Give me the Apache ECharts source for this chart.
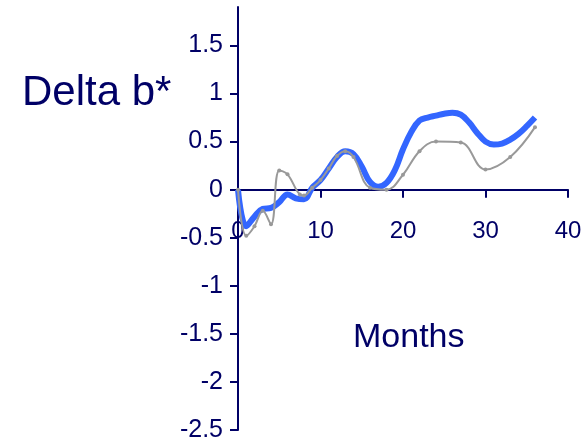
<!DOCTYPE html>
<html>
<head>
<meta charset="utf-8">
<script src="https://cdn.jsdelivr.net/npm/echarts@6/dist/echarts.min.js"></script>
<style>html,body{margin:0;padding:0;background:#fff;}#c{width:588px;height:444px;}</style>
</head>
<body>
<div id="c"></div>
<script>
// Data
const blueMonths = [0,1,2,3,4,5,6,7,8,9,10,11,12,13,14,15,16,17,18,19,20,21,22,23,24,25,26,27,28,29,30,31,32,33,34,35,36];
const blueValues = [0,-0.38,-0.28,-0.2,-0.19,-0.13,-0.05,-0.09,-0.1,0.02,0.1,0.22,0.34,0.4,0.37,0.24,0.08,0.03,0.07,0.2,0.42,0.6,0.72,0.75,0.77,0.79,0.8,0.78,0.7,0.59,0.5,0.47,0.48,0.52,0.58,0.66,0.75];
const grayMonths = [0,1,2,3,4,5,6,7.5,8,9,10,11,12,13,14,16,18,20,22,24,27,30,33,36];
const grayValues = [0,-0.48,-0.38,-0.22,-0.36,0.2,0.16,-0.05,-0.06,0.02,0.1,0.22,0.35,0.4,0.34,0.02,0.0,0.155,0.4,0.5,0.49,0.21,0.34,0.65];
const yTicks = [-2.5,-2,-1.5,-1,-0.5,0,0.5,1,1.5];
const yMin = -2.5, yMax = 1.9;
const xTicks = [0,10,20,30,40];
const yTitle = 'Delta b*';
const xTitle = 'Months';

const navy = '#000066';
const gridTop = 7, gridBottom = 14, H = 444;
const plotH = H - gridTop - gridBottom;
const zeroOffset = -plotH * (0 - yMin) / (yMax - yMin);

const chart = echarts.init(document.getElementById('c'));
chart.setOption({
  animation: false,
  backgroundColor: '#ffffff',
  grid: {left: 238, right: 20, top: gridTop, bottom: gridBottom, containLabel: false, outerBoundsMode: 'none'},
  xAxis: {
    type: 'value', min: 0, max: 40, interval: 10, offset: zeroOffset,
    axisLine: {show: true, onZero: false, lineStyle: {color: navy, width: 2}},
    axisTick: {show: true, length: 8, lineStyle: {color: navy, width: 2}},
    axisLabel: {color: navy, fontSize: 24, fontFamily: 'Liberation Sans', margin: 30},
    splitLine: {show: false}
  },
  yAxis: {
    type: 'value', min: yMin, max: yMax, interval: 0.5,
    axisLine: {show: true, onZero: false, lineStyle: {color: navy, width: 2}},
    axisTick: {show: true, length: 8, customValues: yTicks, lineStyle: {color: navy, width: 2}},
    axisLabel: {color: navy, fontSize: 25, fontFamily: 'Liberation Sans', margin: 15, customValues: yTicks},
    splitLine: {show: false}
  },
  graphic: [
    {type: 'text', left: 22, top: 72, style: {text: yTitle, fill: navy, font: '42px "Liberation Sans"'}},
    {type: 'text', left: 353, top: 321, style: {text: xTitle, fill: navy, font: '34px "Liberation Sans"'}}
  ],
  series: [
    {
      type: 'line', smooth: 0.4, showSymbol: false,
      data: blueMonths.map((m, i) => [m, blueValues[i]]),
      lineStyle: {color: '#3366ff', width: 6},
      itemStyle: {color: '#3366ff'}
    },
    {
      type: 'line', smooth: 0.4, symbol: 'circle', symbolSize: 4,
      data: grayMonths.map((m, i) => [m, grayValues[i]]),
      lineStyle: {color: '#999999', width: 2},
      itemStyle: {color: '#999999'}
    }
  ]
});
</script>
</body>
</html>
